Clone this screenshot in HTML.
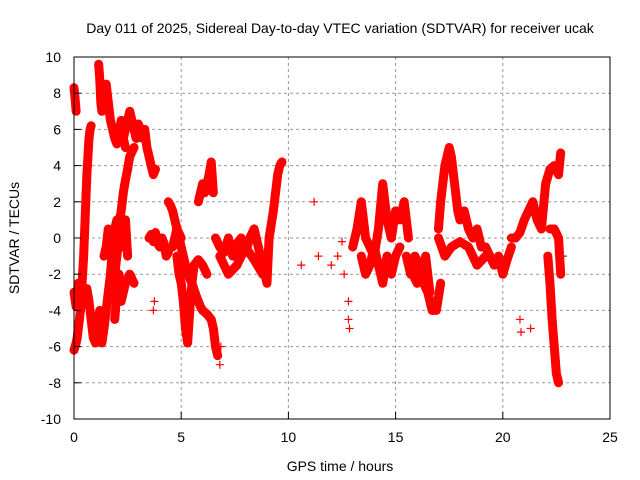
<!DOCTYPE html>
<html><head><meta charset="utf-8"><style>
body{margin:0;background:#fff;}
svg{display:block;font-family:"Liberation Sans",sans-serif;}
</style></head><body>
<svg id="chart" width="640" height="480" viewBox="0 0 640 480">
<rect width="640" height="480" fill="#fff"/>
<g id="grid"></g>
<g id="marks"></g>
<rect x="74" y="57" width="536" height="362" fill="none" stroke="#000" stroke-width="1"/>
<g id="axes"></g>
<text x="340" y="33" font-size="14" text-anchor="middle">Day 011 of 2025, Sidereal Day-to-day VTEC variation (SDTVAR) for receiver ucak</text>
<text x="340" y="471" font-size="14" text-anchor="middle">GPS time / hours</text>
<text x="19" y="238" font-size="14" text-anchor="middle" transform="rotate(-90 19 238)">SDTVAR / TECUs</text>
</svg>
<script>
const xTicks=[0,5,10,15,20,25];
const yTicks=[-10,-8,-6,-4,-2,0,2,4,6,8,10];
const traceTimes=[
[0,0.05,0.1],
[0,0.05,0.1,0.15,0.2,0.25,0.3,0.35,0.4,0.45,0.5,0.55,0.6,0.65,0.7,0.75,0.8],
[0,0.1,0.2,0.3,0.4,0.5,0.6,0.7,0.8,0.9,1.0,1.1,1.2],
[1.15,1.2,1.25,1.3,1.4,1.5,1.6,1.7,1.8,1.9,2.0,2.1,2.2,2.3,2.4],
[2.3,2.5,2.6,2.7,2.8,2.9,3.0,3.1,3.2,3.3,3.4,3.5,3.6,3.7,3.8],
[1.3,1.4,1.5,1.6,1.7,1.8,1.9,2.0,2.1,2.2,2.3,2.4,2.5,2.6,2.8],
[1.4,1.5,1.6,1.7,1.8,1.9,2.0,2.1,2.2,2.3,2.4,2.5],
[1.9,2.0,2.1,2.2,2.4,2.6,2.8],
[3.5,3.6,3.7,3.8,3.9,4.0,4.1,4.2,4.3,4.4],
[4.4,4.5,4.6,4.7,4.8,4.9,5.0,5.1,5.2,5.3,5.5,5.7,5.9,6.0,6.2,6.4,6.5,6.6,6.7],
[4.8,4.9,5.0,5.1,5.2,5.3,5.4,5.5,5.6,5.8,6.0,6.2],
[4.6,4.8,5.0],
[5.8,5.9,6.0,6.1,6.2,6.3,6.4,6.5],
[6.6,6.8,7.0,7.2,7.4,7.6,7.8,8.0,8.2,8.4,8.6,8.8,9.0,9.1,9.3,9.5,9.6,9.7],
[6.8,7.2,7.6,8.0,8.4,8.8],
[13.0,13.2,13.4,13.6,13.8,14.0,14.2,14.4,14.6,14.8,15.0,15.2,15.4,15.6],
[13.4,13.6,13.8,14.0,14.2,14.4,14.6,14.8,15,15.2],
[15.5,15.7,15.9,16.1,16.3,16.5,16.7,16.9,17.1],
[15.8,16,16.2,16.4,16.6],
[17.0,17.1,17.2,17.3,17.4,17.5,17.6,17.7,17.8,17.9,18.0,18.2,18.4,18.6,18.8,19.0,19.2,19.4,19.6,19.8,20.0,20.2,20.4],
[17,17.3,17.6,18,18.4,18.8,19.2],
[20.4,20.6,20.8,21.0,21.2,21.4,21.6,21.8,22.0,22.2,22.4,22.6,22.7],
[22.1,22.2,22.3,22.4,22.5,22.6],
[22.2,22.4,22.6,22.7]
];
const traceValues=[
[8.3,7.7,7],
[-6.2,-6,-5.8,-5.5,-5,-4.5,-4,-3,-2,-1,0.5,2,3.5,4.5,5.5,6,6.2],
[-3,-3.8,-2.5,-4,-3.2,-3.6,-2.8,-3.5,-4.5,-5.5,-5.8,-5,-4],
[9.6,8.8,7.5,7,7.8,8.5,7.5,6.5,6,5.5,5.2,5.8,6.5,5.5,5],
[5.5,6.5,7,6.5,6,5.5,6.3,6,5.5,6,5,4.5,4,3.5,3.8],
[-5.8,-5,-4,-3,-2,-0.5,0.5,1,0.8,1.5,2.5,3.2,3.8,4.5,5],
[-1,-0.5,0.5,-0.5,-1.5,-2,-1,0,-0.5,0.5,1,-1],
[-4.5,-3,-2,-3.5,-2.5,-2,-2.5],
[0,0.2,-0.2,0.3,-0.3,-0.5,0,-0.3,-1,-0.8],
[2,1.8,1.5,1,0.5,0,-0.5,-1,-1.5,-2,-2.5,-3.2,-3.8,-4,-4.2,-4.5,-5,-6,-6.5],
[-1,-2,-2.5,-3.5,-5,-5.8,-4,-2.5,-1.5,-1.2,-1.5,-2],
[-0.5,0.5,0],
[2,2.5,3,2.5,3,3.5,4.2,2.5],
[0,-0.5,-0.8,0,-1,-0.3,0,-0.8,0,0.5,-0.5,-1.5,-2.5,0,1.5,3.5,4,4.2],
[-1,-2,-1.5,-0.5,-1.2,-2],
[-0.5,0.5,2,0,-0.5,-1,0.5,3,1,0,1.5,1,2,0],
[-1,-2,-1.5,-0.5,-1.5,-2.5,-1,-2,-1,-0.5],
[-1,-2,-1,-1.5,-2.5,-3,-4,-4,-2.5],
[-2,-2.5,-2,-1,-3],
[0.5,2,3,4,4.5,5,4.5,3.5,2.5,1.5,1,1.5,0.5,0,0.5,-0.5,-0.5,-1,-1.5,-1,-2,-1.2,-0.5],
[0,-1,-0.5,-0.2,-0.5,-1.5,-1],
[0,0,0.3,1,1.5,2,1,0.5,3,3.8,4,3.5,4.7],
[-1,-2.5,-4.5,-6,-7.5,-8],
[0.5,0.5,0,-2]
];
const scatterTimes=[10.6,11.2,11.4,12,12.3,12.5,12.6,12.8,12.8,12.85,20.8,20.85,21.3,22.8,3.7,3.75,6.8,6.85];
const scatterValues=[-1.5,2,-1,-1.5,-1,-0.2,-2,-4.5,-3.5,-5,-4.5,-5.2,-5,-1,-4,-3.5,-7,-6];

const NS="http://www.w3.org/2000/svg";
const X=t=>74+t*(536/25);
const Y=v=>238-v*(362/20);
const grid=document.getElementById('grid'),axes=document.getElementById('axes'),marks=document.getElementById('marks');
function mk(tag,attrs,parent){const e=document.createElementNS(NS,tag);for(const k in attrs)e.setAttribute(k,attrs[k]);parent.appendChild(e);return e;}
xTicks.forEach(t=>{
 if(t>0&&t<25){const g=mk('line',{x1:X(t),x2:X(t),y1:57,y2:419,stroke:'#999','stroke-dasharray':'3,3'},grid);
 
 }
 const tk=mk('line',{x1:X(t),x2:X(t),y1:419,y2:412,stroke:'#000'},axes);
 
 
 const tx=mk('text',{x:X(t),y:442,'font-size':14,'text-anchor':'middle'},axes);tx.textContent=t;
 
 
});
yTicks.forEach(v=>{
 if(v>-10&&v<10){const g=mk('line',{x1:74,x2:610,y1:Y(v),y2:Y(v),stroke:'#999','stroke-dasharray':'3,3'},grid);
 
 }
 const tk=mk('line',{x1:74,x2:81,y1:Y(v),y2:Y(v),stroke:'#000'},axes);
 
 
 const tx=mk('text',{x:61,y:Y(v)+5,'font-size':14,'text-anchor':'end'},axes);tx.textContent=v;
 
 
});
function plus(t,v){
 const p=mk('path',{d:`M${X(t)-4},${Y(v)}h8M${X(t)},${Y(v)-4}v8`,stroke:'#f00','stroke-width':1.2},marks);
 
 
}
traceTimes.forEach((ts,i)=>{
 const vs=traceValues[i];
 const pts=ts.map((t,j)=>X(t)+','+Y(vs[j])).join(' ');
 const pl=mk('polyline',{points:pts,fill:'none',stroke:'#f00','stroke-width':9,'stroke-linejoin':'round','stroke-linecap':'round'},marks);
 
 
 ts.forEach((t,j)=>plus(t,vs[j]));
});
scatterTimes.forEach((t,i)=>plus(t,scatterValues[i]));
</script>
</body></html>
